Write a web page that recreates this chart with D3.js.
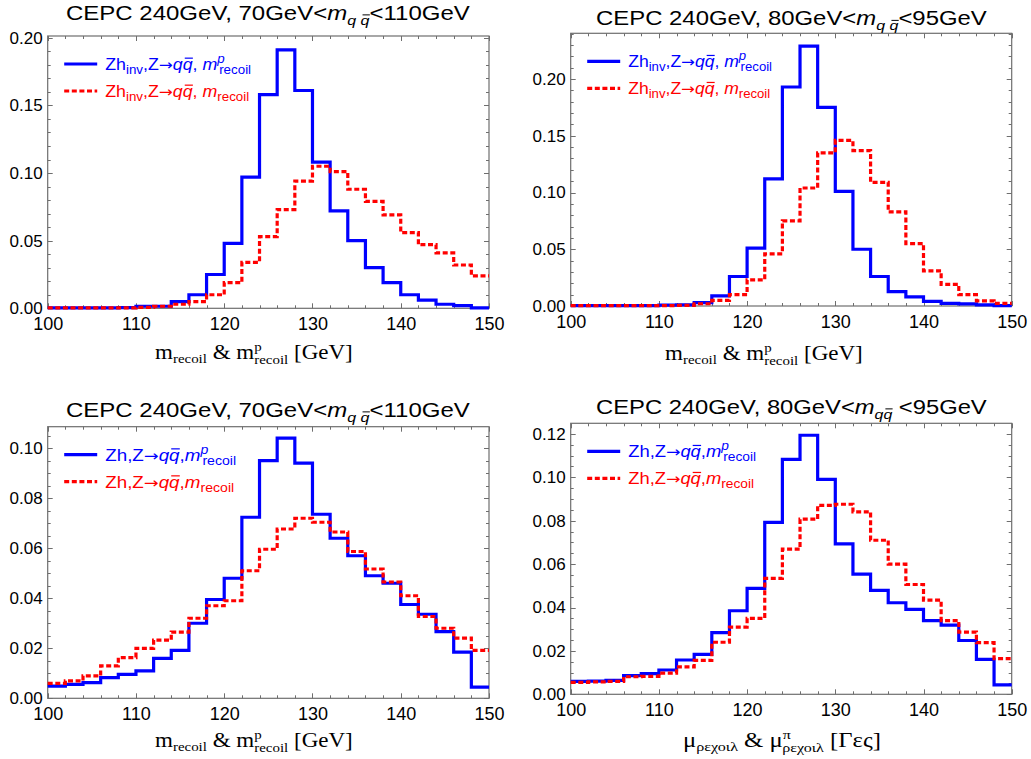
<!DOCTYPE html>
<html><head><meta charset="utf-8">
<script src="https://cdn.jsdelivr.net/npm/d3@7"></script>
<style>
body{margin:0;background:#fff;}
svg{display:block;}
</style></head>
<body>
<svg id="chart" width="1031" height="759" font-family="Liberation Sans, Arial, sans-serif"></svg>
<script>
// ---- data ----
const binEdges = [100,102,104,106,108,110,112,114,116,118,120,122,124,126,128,130,132,134,136,138,140,142,144,146,148,150];
const xTickValues = [100,110,120,130,140,150];

const p1Blue = [0.0003,0.0003,0.0003,0.0003,0.0005,0.0015,0.0015,0.005,0.010,0.025,0.048,0.097,0.158,0.191,0.161,0.108,0.072,0.050,0.030,0.019,0.010,0.006,0.003,0.002,0.0003];
const p1Red  = [0.0003,0.0003,0.0003,0.0003,0.0003,0.0007,0.0015,0.003,0.005,0.010,0.019,0.034,0.053,0.073,0.094,0.105,0.101,0.088,0.079,0.069,0.056,0.047,0.041,0.032,0.024];
const p2Blue = [0.0003,0.0003,0.0003,0.0003,0.0003,0.0008,0.001,0.003,0.009,0.026,0.051,0.112,0.193,0.229,0.175,0.101,0.050,0.026,0.0126,0.008,0.004,0.0024,0.0018,0.001,0.0003];
const p2Red  = [0.0003,0.0003,0.0003,0.0003,0.0003,0.0003,0.0005,0.002,0.005,0.010,0.023,0.046,0.075,0.104,0.135,0.146,0.137,0.109,0.083,0.055,0.031,0.019,0.010,0.0045,0.0024];
const p3Blue = [0.0049,0.0056,0.0063,0.0083,0.0096,0.011,0.016,0.0192,0.030,0.0395,0.048,0.0724,0.095,0.104,0.094,0.0736,0.064,0.057,0.049,0.046,0.0375,0.0336,0.0267,0.0185,0.0045];
const p3Red  = [0.006,0.007,0.009,0.013,0.0163,0.020,0.0233,0.0265,0.032,0.037,0.039,0.051,0.0596,0.0677,0.072,0.0704,0.0665,0.0587,0.0517,0.0465,0.041,0.0327,0.028,0.0241,0.0192];
const p4Blue = [0.006,0.0061,0.0064,0.0086,0.0095,0.0112,0.0158,0.0184,0.0284,0.0385,0.0488,0.0792,0.1083,0.1194,0.0991,0.0693,0.0554,0.0479,0.0422,0.0391,0.034,0.0319,0.0248,0.0161,0.0043];
const p4Red  = [0.0055,0.0057,0.006,0.0081,0.0083,0.0098,0.0126,0.0156,0.024,0.031,0.035,0.0534,0.0669,0.0807,0.0871,0.0876,0.0841,0.071,0.060,0.0506,0.0434,0.034,0.0287,0.0238,0.0164];

const yTicks1 = [0,0.05,0.10,0.15,0.20];
const yTicks2 = [0,0.05,0.10,0.15,0.20];
const yTicks3 = [0,0.02,0.04,0.06,0.08,0.10];
const yTicks4 = [0,0.02,0.04,0.06,0.08,0.10,0.12];

const titleRanges = ["70GeV<", "80GeV<", "70GeV<", "80GeV<"];
const titleEnds = ["<110GeV", "<95GeV", "<110GeV", " <95GeV"];
const legendProc = ["inv", "inv", "", ""];

// ---- layout ----
const panels = [
  {blue:p1Blue, red:p1Red, yTicks:yTicks1, yMax:0.2013, minor:0.01, L:47.7, R:489, T:36, B:308.3, titleX:66, titleY:19.5, titleW:404, labX:155, labY:359, legW:146},
  {blue:p2Blue, red:p2Red, yTicks:yTicks2, yMax:0.2403, minor:0.01, L:570.7, R:1011.7, T:33.3, B:306, titleX:596, titleY:25, titleW:391, labX:665, labY:360, legW:144},
  {blue:p3Blue, red:p3Red, yTicks:yTicks3, yMax:0.1086, minor:0.005, L:47.7, R:489, T:426.7, B:698.3, titleX:66, titleY:416.5, titleW:404, labX:155, labY:746.5, legW:131},
  {blue:p4Blue, red:p4Red, yTicks:yTicks4, yMax:0.1249, minor:0.005, L:570.7, R:1011.7, T:423.3, B:694.3, titleX:596, titleY:413.5, titleW:391, labX:683, labY:746.5, legW:128, greek:true}
];

const svg = d3.select("#chart");

// rich text in a group, left-anchored at (x, y), horizontally scaled to width w
function rich(parent, x, y, w, opts, segs){
  const g = parent.append("g");
  const t = g.append("text").attr("x",0).attr("y",0)
    .attr("font-size",opts.size).attr("fill",opts.fill||"#000");
  if (opts.fam) t.attr("font-family", opts.fam);
  let cur = 0, idx = 0;
  const overs = [];
  segs.forEach(s=>{
    const ts = t.append("tspan").text(s.t).attr("font-size", s.size||opts.size);
    const sh = s.shift||0;
    if (sh!==cur){ ts.attr("dy", sh-cur); cur = sh; }
    if (s.dx) ts.attr("dx", s.dx);
    if (s.it) ts.attr("font-style","italic");
    if (s.fam) ts.attr("font-family", s.fam);
    if (s.over) overs.push({idx, size:s.size||opts.size, shift:sh});
    idx += s.t.length;
  });
  const node = t.node();
  overs.forEach(o=>{
    const e = node.getExtentOfChar(o.idx);
    const yy = o.shift - 0.74*o.size;
    g.append("line").attr("x1", e.x + 0.2*e.width).attr("x2", e.x + e.width*1.02)
      .attr("y1", yy).attr("y2", yy).attr("stroke", opts.fill||"#000").attr("stroke-width", Math.max(1,0.075*o.size));
  });
  const bb = node.getBBox();
  const s = w ? w/bb.width : 1;
  g.attr("transform", `translate(${x - bb.x*s},${y}) scale(${s},1)`);
  g.datum(s);
  return g;
}

panels.forEach((p, i)=>{
  const x = d3.scaleLinear().domain([100,150]).range([p.L, p.R]);
  const y = d3.scaleLinear().domain([0, p.yMax]).range([p.B, p.T]);
  const g = svg.append("g");
  const frameCol = "#6e6e6e";

  // minor/major ticks
  const xMinor = d3.range(100, 150.001, 2);
  const yMinor = d3.range(0, p.yMax, p.minor);
  const tk = g.append("g").attr("stroke", frameCol).attr("stroke-width",1);
  xMinor.forEach(v=>{
    const major = xTickValues.includes(Math.round(v));
    const len = major ? 5 : 3;
    const xx = Math.round(x(v))+0.5;
    tk.append("line").attr("x1",xx).attr("x2",xx).attr("y1",p.B).attr("y2",p.B-len);
    tk.append("line").attr("x1",xx).attr("x2",xx).attr("y1",p.T).attr("y2",p.T+len);
  });
  yMinor.forEach(v=>{
    const major = p.yTicks.some(t=>Math.abs(t-v)<1e-9);
    const len = major ? 5 : 3;
    const yy = Math.round(y(v))+0.5;
    tk.append("line").attr("y1",yy).attr("y2",yy).attr("x1",p.L).attr("x2",p.L+len);
    tk.append("line").attr("y1",yy).attr("y2",yy).attr("x1",p.R).attr("x2",p.R-len);
  });

  // frame
  g.append("rect").attr("x",p.L).attr("y",p.T).attr("width",p.R-p.L).attr("height",p.B-p.T)
    .attr("fill","none").attr("stroke",frameCol).attr("stroke-width",1.2);

  // tick labels
  const xAx = d3.axisBottom(x).tickValues(xTickValues).tickSize(0).tickPadding(9).tickFormat(d3.format("d"));
  const xg = g.append("g").attr("transform",`translate(0,${p.B})`).call(xAx);
  xg.select(".domain").remove();
  xg.attr("font-family",null).attr("font-size",18);
  xg.selectAll("text").attr("font-size",18).attr("fill","#000");
  const yAx = d3.axisLeft(y).tickValues(p.yTicks).tickSize(0).tickPadding(5).tickFormat(d3.format(".2f"));
  const yg = g.append("g").attr("transform",`translate(${p.L},0)`).call(yAx);
  yg.select(".domain").remove();
  yg.attr("font-family",null).attr("font-size",17);
  yg.selectAll("text").attr("font-size",17).attr("fill","#000");

  // histograms
  const stepLine = d3.line().x(d=>x(d[0])).y(d=>y(d[1])).curve(d3.curveStepAfter);
  const pts = vals => vals.map((v,k)=>[binEdges[k], v]).concat([[binEdges[binEdges.length-1], vals[vals.length-1]]]);
  g.append("path").attr("d", stepLine(pts(p.blue))).attr("fill","none").attr("stroke","#0000ff").attr("stroke-width",3.2);
  g.append("path").attr("d", stepLine(pts(p.red))).attr("fill","none").attr("stroke","#ff0000").attr("stroke-width",3.2).attr("stroke-dasharray","5,2.6");

  // title
  const subSegs = (i===3)
    ? [{t:"q",it:true,size:13,shift:5},{t:"q",it:true,size:13,shift:5,over:true}]
    : [{t:"q",it:true,size:13,shift:5},{t:" ",size:13,shift:5},{t:"q",it:true,size:13,shift:5,over:true}];
  rich(g, p.titleX, p.titleY, p.titleW, {size:19.5},
    [{t:"CEPC 240GeV, "+titleRanges[i]},{t:"m",it:true}].concat(subSegs).concat([{t:titleEnds[i],shift:0}]));

  // legend
  const lx1 = p.L + 16.5, lx2 = p.L + 49.5, ltx = p.L + 57.5;
  const ly1 = p.T + 28, ly2 = p.T + 55;
  g.append("line").attr("x1",lx1).attr("x2",lx2).attr("y1",ly1).attr("y2",ly1).attr("stroke","#0000ff").attr("stroke-width",3.2);
  g.append("line").attr("x1",lx1).attr("x2",lx2).attr("y1",ly2).attr("y2",ly2).attr("stroke","#ff0000").attr("stroke-width",3.2).attr("stroke-dasharray","5,2.6");
  const inv = legendProc[i];
  const sep = inv ? ", " : ",";
  const arrow = {t:"\u2192", fam:"DejaVu Sans", size:15};
  const head = inv ? [{t:"Zh"},{t:inv,size:12,shift:4},{t:",Z",shift:0},arrow] : [{t:"Zh,Z"},arrow];
  const q = [{t:"q",it:true},{t:"q",it:true,over:true,size:16},{t:sep}];
  const g1 = rich(g, ltx, ly1+6, p.legW, {size:16, fill:"#0000ff"},
    head.concat(q).concat([{t:"m",it:true},{t:"p",it:true,size:12,shift:-7},{t:"recoil",size:12,shift:4,dx:-5}]));
  const sc = g1.datum();
  const g2 = rich(g, ltx, ly2+6, null, {size:16, fill:"#ff0000"},
    head.concat(q).concat([{t:"m",it:true},{t:"recoil",size:12,shift:4}]));
  g2.attr("transform", `translate(${ltx},${ly2+6}) scale(${sc},1)`);

  // x-axis label
  const serif = "Liberation Serif, Times New Roman, serif";
  if (!p.greek){
    rich(g, p.labX, p.labY, 198, {size:20, fam:serif},
      [{t:"m"},{t:"recoil",size:13,shift:4},{t:" & m",shift:0},{t:"p",size:13,shift:-8},{t:"recoil",size:13,shift:5,dx:-6.5},{t:" [GeV]",shift:0}]);
  } else {
    rich(g, p.labX, p.labY, 198, {size:20, fam:serif},
      [{t:"\u03bc"},{t:"\u03c1\u03b5\u03c7\u03bf\u03b9\u03bb",size:13,shift:4},{t:" & \u03bc",shift:0},{t:"\u03c0",size:13,shift:-8},{t:"\u03c1\u03b5\u03c7\u03bf\u03b9\u03bb",size:13,shift:5,dx:-7},{t:" [\u0393\u03b5\u03c2]",shift:0}]);
  }
});
</script>
</body></html>
